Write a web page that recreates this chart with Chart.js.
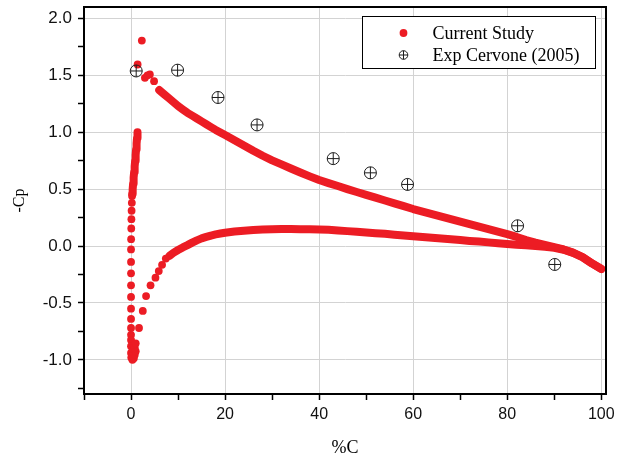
<!DOCTYPE html>
<html>
<head>
<meta charset="utf-8">
<title>-Cp vs %C</title>
<script src="https://cdn.jsdelivr.net/npm/chart.js@4.4.1/dist/chart.umd.min.js"></script>
<style>
html,body{margin:0;padding:0;background:#ffffff;}
#wrap{width:620px;height:460px;}
canvas{display:block;}
</style>
</head>
<body>
<div id="wrap"><canvas id="chart" width="620" height="460"></canvas></div>
<script>
// ---------------- data ----------------
// Experimental points (Cervone 2005)
const expX = [1.1, 9.9, 18.5, 26.8, 43.0, 50.9, 58.8, 82.2, 90.1];
const expY = [1.538, 1.545, 1.305, 1.064, 0.768, 0.643, 0.541, 0.178, -0.162];

// Current study: isolated dots near the suction peak
const peakX = [1.4, 2.3, 2.95, 3.5, 4.0, 4.9];
const peakY = [1.595, 1.805, 1.478, 1.500, 1.508, 1.448];

// Current study: isolated dots of the leading-edge column
const colDotX = [0.22, 0.17, 0.12, 0.08, 0.05, 0.02, 0.0, 0.0, 0.0, 0.0, 0.0, 0.0, 0.0, 0.0, 0.0, 0.0, 0.0, 0.0, 0.05];
const colDotY = [0.44, 0.38, 0.31, 0.236, 0.154, 0.06, -0.03, -0.14, -0.24, -0.345, -0.447, -0.55, -0.64, -0.72, -0.78, -0.825, -0.88, -0.94, -0.98];

// Current study: stagnation cluster
const stagX = [0.3, 0.6, 0.2, 0.8, 0.5, 1.0, 0.4, 0.8, 0.6, 1.0];
const stagY = [-1.0, -0.985, -0.965, -0.955, -0.935, -0.925, -0.9, -0.895, -0.87, -0.855];

// Current study: isolated dots on the pressure side
const presX = [1.7, 2.5, 3.2, 4.15, 5.2, 5.9, 6.6, 7.4];
const presY = [-0.72, -0.57, -0.44, -0.345, -0.278, -0.22, -0.165, -0.11];

// Current study: dense part of the leading-edge column
const colX = [0.25, 0.35, 0.45, 0.55, 0.66, 0.77, 0.88, 0.98, 1.08, 1.18, 1.28, 1.38];
const colY = [0.46, 0.50, 0.55, 0.60, 0.65, 0.70, 0.75, 0.80, 0.85, 0.90, 0.95, 1.00];

// Current study: dense suction-side curve
const upperX = [6, 7, 8, 9, 10, 11, 12, 13, 14, 15, 16, 17, 18, 19, 20,
  22, 24, 26, 28, 30, 32, 34, 36, 38, 40, 42, 44, 46, 48, 50, 52, 54, 56, 58, 60,
  62, 64, 66, 68, 70, 72, 74, 76, 78, 80, 82, 84, 86, 88, 90, 92, 94, 96, 98, 100];
const upperY = [1.37, 1.335, 1.30, 1.265, 1.23, 1.20, 1.17, 1.145, 1.12, 1.095, 1.07, 1.045, 1.02, 0.997, 0.975,
  0.93, 0.884, 0.837, 0.793, 0.753, 0.717, 0.681, 0.646, 0.612, 0.58, 0.553, 0.527, 0.50, 0.475, 0.45, 0.425, 0.40, 0.375, 0.35, 0.325,
  0.303, 0.281, 0.259, 0.237, 0.215, 0.193, 0.171, 0.149, 0.127, 0.105, 0.08, 0.052, 0.03, 0.01, -0.01, -0.03, -0.058, -0.097, -0.152, -0.20];

// Current study: dense pressure-side curve
const lowerX = [8.2, 9, 10, 11, 12, 13, 14, 15, 16, 17, 18, 19, 20,
  22, 24, 26, 28, 30, 32, 34, 36, 38, 40, 42, 44, 46, 48, 50, 52, 54, 56, 58, 60,
  62, 64, 66, 68, 70, 72, 74, 76, 78, 80, 82, 84, 86, 88, 90, 92, 94, 96, 98, 100];
const lowerY = [-0.085, -0.06, -0.035, -0.012, 0.008, 0.03, 0.05, 0.067, 0.08, 0.092, 0.102, 0.11, 0.117,
  0.127, 0.135, 0.141, 0.145, 0.148, 0.149, 0.149, 0.148, 0.147, 0.145, 0.142, 0.137, 0.131, 0.125, 0.119, 0.113, 0.107, 0.10, 0.093, 0.086,
  0.079, 0.072, 0.066, 0.059, 0.052, 0.045, 0.039, 0.032, 0.025, 0.018, 0.012, 0.006, 0.0, -0.007, -0.016, -0.033, -0.06, -0.098, -0.153, -0.203];

// Axis ticks carrying labels
const xMajorTicks = [0, 20, 40, 60, 80, 100];
const yMajorTicks = [-1.0, -0.5, 0.0, 0.5, 1.0, 1.5, 2.0];

// Legend entries, in the reference's order
const legendLabels = ['Current Study', 'Exp Cervone (2005)'];

// ---------------- styling ----------------
const RED = '#ec1c24';
const EXP_C = '#1c1c1c';
const GRID_C = '#d3d3d3';
const SANS = '"Liberation Sans", Arial, sans-serif';
const SERIF = '"Liberation Serif", "Times New Roman", serif';

function pts(xs, ys) { return xs.map((x, i) => ({ x: x, y: ys[i] })); }
function isMajor(list, v) { return list.some(t => Math.abs(t - v) < 1e-6); }

const dotX = [].concat(peakX, colDotX, stagX, presX);
const dotY = [].concat(peakY, colDotY, stagY, presY);

function bandDataset(xs, ys) {
  return {
    label: 'Current Study', data: pts(xs, ys), showLine: true,
    borderColor: RED, borderWidth: 8, borderCapStyle: 'round', borderJoinStyle: 'round',
    pointRadius: 0, tension: 0, order: 3
  };
}

const frameAndLegend = {
  id: 'frameAndLegend',
  afterDraw(chart) {
    const ctx = chart.ctx, a = chart.chartArea;
    ctx.save();
    // top and right frame lines
    ctx.strokeStyle = '#000';
    ctx.lineWidth = 2;
    ctx.beginPath();
    ctx.moveTo(a.left, a.top);
    ctx.lineTo(a.right, a.top);
    ctx.lineTo(a.right, a.bottom);
    ctx.stroke();

    // legend box
    const bx = Math.round(a.right - 244) + 0.5, by = Math.round(a.top + 9) + 0.5, bw = 233, bh = 52;
    ctx.fillStyle = '#fff';
    ctx.fillRect(bx, by, bw, bh);
    ctx.lineWidth = 1;
    ctx.strokeStyle = '#000';
    ctx.strokeRect(bx, by, bw, bh);

    const mx = bx + 41;
    const rows = [by + 16.5, by + 38.5];
    ctx.font = '18px ' + SERIF;
    ctx.textBaseline = 'middle';
    ctx.textAlign = 'left';
    legendLabels.forEach((label, i) => {
      const d = chart.data.datasets.find(ds => ds.label === label && ds.legendMarker);
      if (!d) return;
      const y = rows[i];
      if (d.legendMarker === 'dot') {
        ctx.fillStyle = RED;
        ctx.beginPath();
        ctx.arc(mx, y, 3.9, 0, Math.PI * 2);
        ctx.fill();
      } else {
        ctx.strokeStyle = EXP_C;
        ctx.lineWidth = 1;
        ctx.beginPath();
        ctx.arc(mx, y, 4.3, 0, Math.PI * 2);
        ctx.moveTo(mx - 4.3, y); ctx.lineTo(mx + 4.3, y);
        ctx.moveTo(mx, y - 4.3); ctx.lineTo(mx, y + 4.3);
        ctx.stroke();
      }
      ctx.fillStyle = '#000';
      ctx.fillText(label, bx + 70, y + 1);
    });
    ctx.restore();
  }
};

new Chart(document.getElementById('chart'), {
  type: 'scatter',
  data: {
    datasets: [
      { label: 'Exp Cervone (2005)', data: pts(expX, expY), pointStyle: 'circle', pointRadius: 6,
        pointBorderWidth: 1, pointBorderColor: EXP_C, pointBackgroundColor: 'rgba(0,0,0,0)', order: 0,
        legendMarker: 'cross' },
      { label: 'Exp Cervone (2005)', data: pts(expX, expY), pointStyle: 'cross', pointRadius: 6,
        pointBorderWidth: 1, pointBorderColor: EXP_C, order: 0 },
      { label: 'Current Study', data: pts(dotX, dotY), pointStyle: 'circle', pointRadius: 3.9,
        pointBorderWidth: 0, pointBackgroundColor: RED, pointBorderColor: RED, order: 2,
        legendMarker: 'dot' },
      bandDataset(colX, colY),
      bandDataset(upperX, upperY),
      bandDataset(lowerX, lowerY)
    ]
  },
  options: {
    responsive: false,
    animation: false,
    events: [],
    layout: { padding: { top: 5, right: 14, left: 0, bottom: 0 } },
    plugins: { legend: { display: false }, tooltip: { enabled: false } },
    scales: {
      x: {
        type: 'linear', position: 'bottom', min: -10, max: 101,
        afterFit(s) { s.height = 66; s.paddingLeft = 0; s.paddingRight = 0; },
        border: { display: true, color: '#000', width: 2 },
        grid: {
          color: c => (c.tick && isMajor(xMajorTicks, c.tick.value)) ? GRID_C : 'rgba(0,0,0,0)',
          lineWidth: 1, drawTicks: true, tickLength: 6, tickColor: '#000', tickWidth: 1.5
        },
        ticks: {
          stepSize: 10, includeBounds: false, autoSkip: false, maxRotation: 0, padding: 5,
          color: '#111', font: { family: SANS, size: 16 },
          callback: v => isMajor(xMajorTicks, v) ? String(Math.round(v)) : ''
        },
        title: { display: true, text: '%C', color: '#000', font: { family: SERIF, size: 18 }, padding: { top: 0, bottom: 1 } }
      },
      y: {
        type: 'linear', position: 'left', min: -1.3, max: 2.1,
        afterFit(s) { s.width = 84; s.paddingTop = 0; s.paddingBottom = 0; },
        border: { display: true, color: '#000', width: 2 },
        grid: {
          color: c => (c.tick && isMajor(yMajorTicks, c.tick.value)) ? GRID_C : 'rgba(0,0,0,0)',
          lineWidth: 1, drawTicks: true, tickLength: 6, tickColor: '#000', tickWidth: 1.5
        },
        ticks: {
          stepSize: 0.25, includeBounds: false, autoSkip: false, padding: 6,
          color: '#111', font: { family: SANS, size: 17 },
          callback: v => isMajor(yMajorTicks, v) ? v.toFixed(1) : ''
        },
        title: { display: true, text: '-Cp', color: '#000', font: { family: SERIF, size: 16 }, padding: { top: 10, bottom: 0 } }
      }
    }
  },
  plugins: [frameAndLegend]
});
</script>
</body>
</html>
